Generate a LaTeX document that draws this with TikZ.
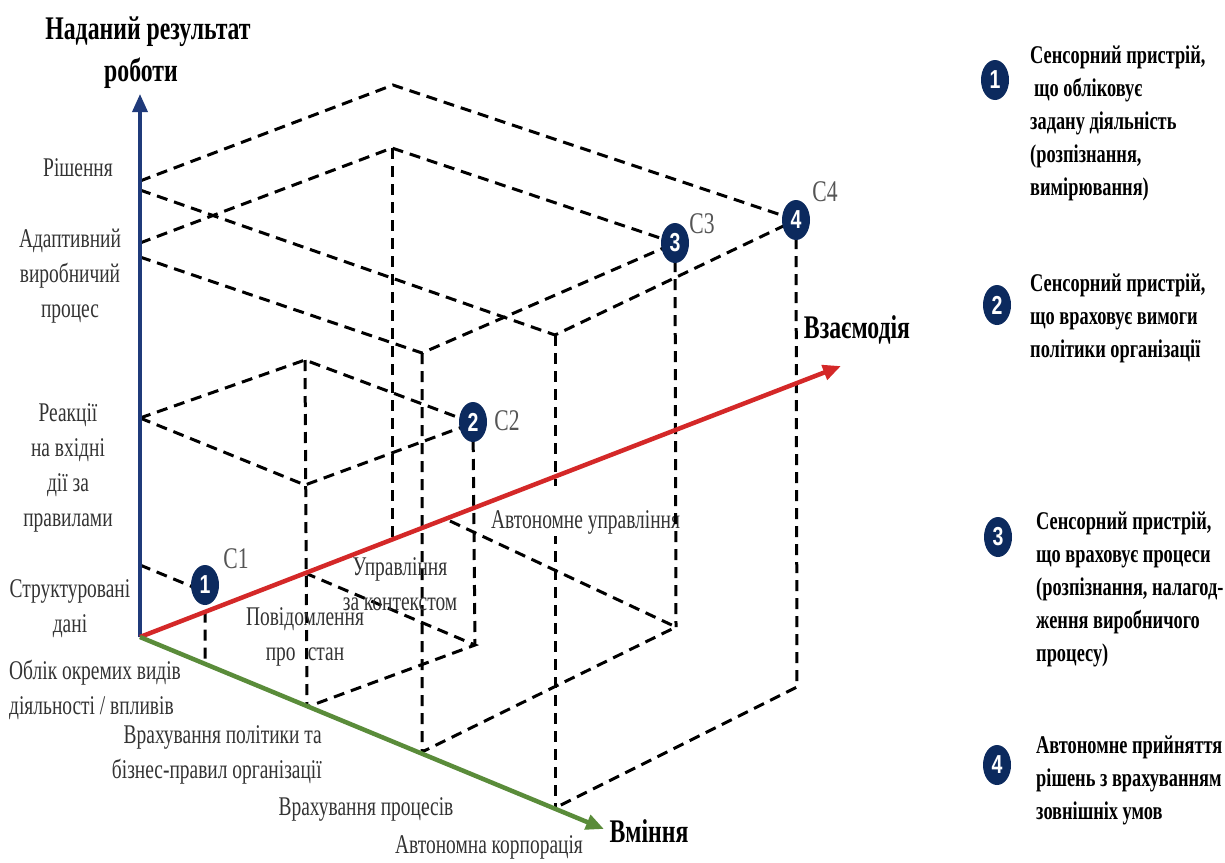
\documentclass[tikz,border=0pt]{standalone}
\usepackage{fontspec}
\setmainfont[FakeStretch=0.72]{Liberation Serif}
\newfontfamily\numfont[FakeStretch=0.75]{Liberation Sans}
\usetikzlibrary{arrows.meta,shapes.geometric}
\definecolor{navy}{HTML}{0C2A5E}
\definecolor{axblue}{HTML}{1F3A7A}
\definecolor{axred}{HTML}{D42828}
\definecolor{axgreen}{HTML}{5A8C3A}
\definecolor{labgray}{HTML}{333333}
\definecolor{cgray}{HTML}{555555}
\begin{document}
\begin{tikzpicture}[x=1pt,y=-1pt,
  dashln/.style={black,line width=3pt,dash pattern=on 11pt off 7pt},
  lbl/.style={font=\fontsize{27}{35}\selectfont, text=labgray, inner sep=0pt, align=center},
  ttl/.style={font=\fontsize{33}{40}\bfseries\selectfont, text=black, inner sep=0pt, align=center},
  leg/.style={font=\fontsize{25.5}{33}\bfseries\selectfont, text=black, inner sep=0pt, align=left, anchor=west},
  clab/.style={font=\fontsize{30}{30}\selectfont, text=cgray, inner sep=0pt},
  cnum/.style={ellipse, fill=navy, minimum width=28pt, minimum height=40pt, inner sep=0pt,
     text=white, font=\numfont\fontsize{26}{26}\bfseries\selectfont},
  axis/.style={line width=4.5pt, -{Triangle[length=18pt,width=15pt]}}
]
\fill[white] (0,0) rectangle (1225,862);
\useasboundingbox (0,0) rectangle (1225,862);

% ---- coordinates ----
\coordinate (O) at (140,637);
\coordinate (ZT) at (140,94);
\coordinate (RT) at (841,366);
\coordinate (GT) at (604,829);
\coordinate (z4a) at (140,181);
\coordinate (z4b) at (140,190);
\coordinate (z3a) at (140,243);
\coordinate (z3b) at (140,257);
\coordinate (z2) at (140,418);
\coordinate (z1) at (140,565);
% C4
\coordinate (p4r) at (393,85);
\coordinate (p4g) at (555,335);
\coordinate (v4) at (796,220);
\coordinate (b4g) at (555,808);
\coordinate (b4f) at (797,687);
% C3
\coordinate (p3r) at (392,148);
\coordinate (p3g) at (422,353);
\coordinate (v3) at (675,243);
\coordinate (b3r) at (392,540);
\coordinate (b3g) at (422,752);
\coordinate (b3f) at (676,627);
\coordinate (b3s) at (450,521);
% C2
\coordinate (p2r) at (305,360);
\coordinate (p2g) at (305,485);
\coordinate (v2) at (473,423);
\coordinate (b2g) at (307,707);
\coordinate (b2r) at (305,573);
\coordinate (b2f) at (475,645);
% C1
\coordinate (v1) at (205,592);
\coordinate (b1) at (205,664);

% ---- dashed box edges ----
\draw[dashln] (z4a) -- (p4r) -- (v4);
\draw[dashln] (z4b) -- (p4g) -- (v4);
\draw[dashln] (p4g) -- (b4g);
\draw[dashln] (v4) -- (b4f) -- (b4g);
\draw[dashln] (z3a) -- (p3r) -- (v3);
\draw[dashln] (z3b) -- (p3g) -- (v3);
\draw[dashln] (p3r) -- (b3r);
\draw[dashln] (p3g) -- (b3g) -- (b3f);
\draw[dashln] (b3s) -- (b3f);
\draw[dashln] (z2) -- (p2r) -- (v2);
\draw[dashln] (z2) -- (p2g) -- (v2);
\draw[dashln] (p2r) -- (b2g);
\draw[dashln] (v2) -- (b2f);
\draw[dashln] (b2r) -- (b2f) -- (b2g);
\draw[dashln] (z1) -- (v1) -- (b1);

\node[lbl, fill=white, anchor=base west, inner xsep=1pt, text height=42pt, text depth=8pt] (avtupr) at (490,528) {Автономне управління};
\draw[dashln] (v3) -- (b3f);

% ---- axes ----
\draw[axis, draw=axblue, fill=axblue, line width=3.5pt] (O) -- (ZT);
\draw[axis, draw=axred, fill=axred] (O) -- (RT);
\draw[axis, draw=axgreen, fill=axgreen] (O) -- (GT);

% ---- markers ----
\node[cnum] (c1) at (205,585) {1};
\node[cnum] (c2) at (473,422) {2};
\node[cnum] (c3) at (675,243) {3};
\node[cnum] (c4) at (796,220) {4};
\node[clab] (c1l) at (236,559) {C1};
\node[clab] (c2l) at (507,421) {C2};
\node[clab] (c3l) at (702,224) {C3};
\node[clab] (c4l) at (825,192) {C4};

% ---- titles ----
\node[ttl] (t1) at (148,32) {Наданий результат};
\node[ttl] (t2) at (141,73) {роботи};
\node[ttl] (vzaem) at (857,330) {Взаємодія};
\node[ttl] (vmin) at (649,831) {Вміння};

% ---- labels ----
\node[lbl] (resh) at (78,168) {Рішення};
\node[lbl] (adapt) at (70,276) {Адаптивний\\виробничий\\процес};
\node[lbl] (react) at (68,468) {Реакції\\на вхідні\\дії за\\правилами};
\node[lbl] (struct) at (70,609) {Структуровані\\дані};
\node[lbl, align=left, anchor=west] (oblik) at (9,690) {Облік окремих видів\\діяльності / впливів};
\node[lbl, align=right, anchor=east] (vrpol) at (322,755) {Врахування політики та\\бізнес-правил організації};
\node[lbl] (vrproc) at (366,809) {Врахування процесів};
\node[lbl] (avtkorp) at (489,847) {Автономна корпорація};
\node[lbl] (povid) at (305,637) {Повідомлення\\про\hspace{0.45em}стан};
\node[lbl] (upr) at (400,584) {Управління\\за контекстом};

% ---- legend ----
\node[cnum] (m1) at (995,80) {1};
\node[cnum] (m2) at (997,305) {2};
\node[cnum] (m3) at (998,537) {3};
\node[cnum] (m4) at (997,765) {4};
\node[leg] (d1) at (1030,123) {Сенсорний пристрій,\\\hspace{4pt}що обліковує\\задану діяльність\\(розпізнання,\\вимірювання)};
\node[leg] (d2) at (1030,318) {Сенсорний пристрій,\\що враховує вимоги\\політики організації};
\node[leg] (d3) at (1036,589) {Сенсорний пристрій,\\що враховує процеси\\(розпізнання, налагод-\\ження виробничого\\процесу)};
\node[leg] (d4) at (1036,780) {Автономне прийняття\\рішень з врахуванням\\зовнішніх умов};
\end{tikzpicture}
\end{document}
